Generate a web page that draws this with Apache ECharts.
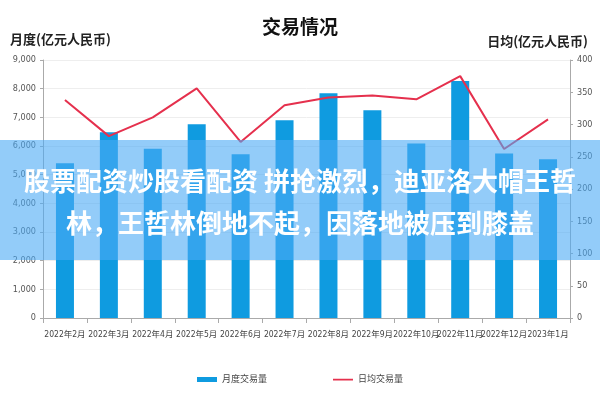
<!DOCTYPE html>
<html><head><meta charset="utf-8">
<script src="https://cdn.jsdelivr.net/npm/echarts@6/dist/echarts.min.js"></script>
<style>html,body{margin:0;padding:0;background:#fff}#c{width:600px;height:400px}</style>
</head><body><div id="c"></div>
<script>
const categories = ['2022年2月','2022年3月','2022年4月','2022年5月','2022年6月','2022年7月','2022年8月','2022年9月','2022年10月','2022年11月','2022年12月','2023年1月'];
const monthlyVolume = [5400, 6480, 5900, 6760, 5710, 6900, 7840, 7250, 6090, 8270, 5740, 5540];
const dailyAverage = [338, 282, 311, 356, 273, 330, 342, 345, 339, 375, 262, 308];
const bannerLines = ['股票配资炒股看配资 拼抢激烈，迪亚洛大帽王哲', '林，王哲林倒地不起，因落地被压到膝盖'];

const font = '"Noto Sans CJK SC",sans-serif';
const narrow = '"DejaVu Sans Condensed","Noto Sans CJK SC",sans-serif';
const chart = echarts.init(document.getElementById('c'));
chart.setOption({
  animation: false,
  title: { text: '交易情况', left: 'center', top: 12, textStyle: { fontSize: 19, fontWeight: 'bold', color: '#111', fontFamily: font } },
  grid: { left: 43, right: 30, top: 60, bottom: 82 },
  legend: {
    bottom: 11, left: 'center', itemWidth: 20, itemHeight: 5, itemGap: 66,
    textStyle: { fontSize: 9, color: '#444', fontFamily: narrow },
    data: [
      { name: '月度交易量', icon: 'rect' },
      { name: '日均交易量', icon: 'path://M0,1.7h20v1.8h-20zM0,0h0.01v0.01h-0.01zM0,5h0.01v0.01h-0.01z' }
    ]
  },
  xAxis: {
    type: 'category', data: categories,
    axisLine: { lineStyle: { color: '#aaa' } },
    axisTick: { show: true, lineStyle: { color: '#aaa' } },
    axisLabel: { fontSize: 8.5, color: '#444', margin: 13, interval: 0, fontFamily: narrow }
  },
  yAxis: [
    { type: 'value', min: 0, max: 9000, interval: 1000,
      name: '月度(亿元人民币)', nameLocation: 'end', nameGap: 14,
      nameTextStyle: { fontSize: 13, fontWeight: 'bold', color: '#222', align: 'left', padding: [0,0,0,-33], fontFamily: font },
      axisLine: { show: true, lineStyle: { color: '#aaa' } },
      axisTick: { show: true, length: 3, lineStyle: { color: '#aaa' } },
      axisLabel: { fontSize: 9, color: '#555', margin: 7, fontFamily: narrow, formatter: v => v.toLocaleString('en-US') },
      splitLine: { lineStyle: { color: '#eee' } } },
    { type: 'value', min: 0, max: 400, interval: 50,
      name: '日均(亿元人民币)', nameLocation: 'end', nameGap: 12,
      nameTextStyle: { fontSize: 13, fontWeight: 'bold', color: '#222', align: 'right', padding: [0,-18,0,0], fontFamily: font },
      axisLine: { show: true, lineStyle: { color: '#aaa' } },
      axisTick: { show: true, length: 3, lineStyle: { color: '#aaa' } },
      axisLabel: { fontSize: 9, color: '#555', margin: 7, fontFamily: narrow },
      splitLine: { show: false } }
  ],
  series: [
    { name: '月度交易量', type: 'bar', data: monthlyVolume, barWidth: 18, itemStyle: { color: '#0F9BE0' } },
    { name: '日均交易量', type: 'line', yAxisIndex: 1, data: dailyAverage, symbol: 'none', lineStyle: { color: '#E5304D', width: 2 }, itemStyle: { color: '#E5304D' } }
  ],
  graphic: [
    { type: 'rect', z: 100, left: 0, top: 140, shape: { width: 600, height: 120 }, style: { fill: 'rgba(75,170,245,0.6)' } },
    { type: 'text', z: 101, left: 'center', top: 168, style: { text: bannerLines[0], fill: '#fff', font: 'bold 26px "Noto Sans CJK SC", sans-serif' } },
    { type: 'text', z: 101, left: 'center', top: 210, style: { text: bannerLines[1], fill: '#fff', font: 'bold 26px "Noto Sans CJK SC", sans-serif' } }
  ]
});
</script></body></html>
